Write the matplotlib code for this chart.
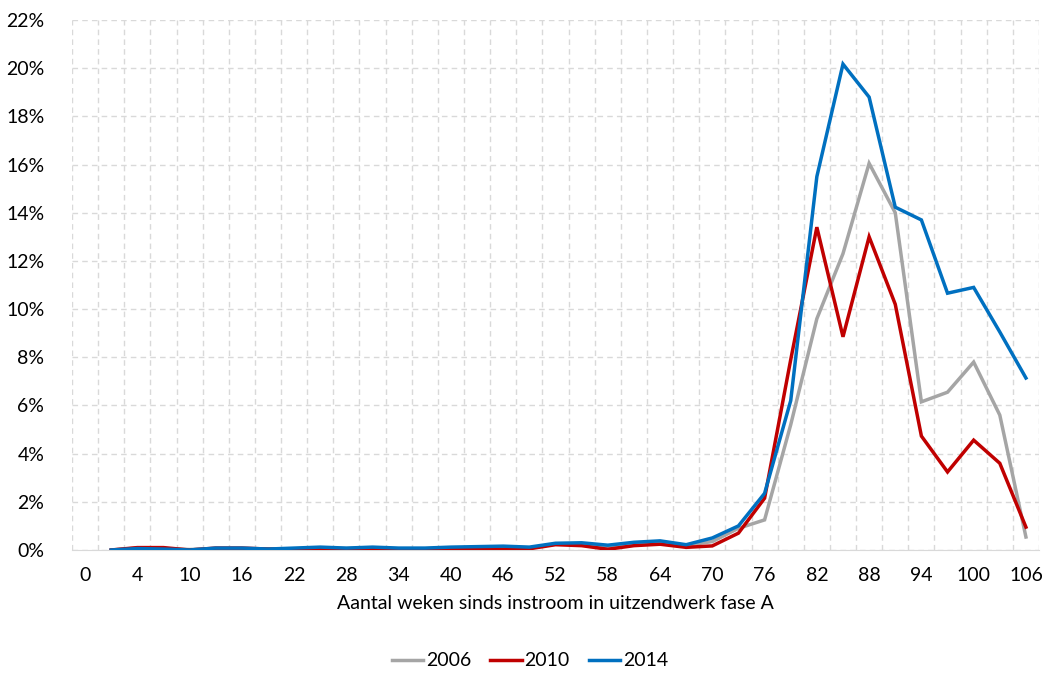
import matplotlib
matplotlib.use("Agg")
from matplotlib import pyplot
from matplotlib.ticker import FuncFormatter

# Categories on the x axis (weeks since inflow); first category "0" has no data
weeks = ["0", "1", "4", "7", "10", "13", "16", "19", "22", "25", "28", "31", "34",
         "37", "40", "43", "46", "49", "52", "55", "58", "61", "64", "67", "70",
         "73", "76", "79", "82", "85", "88", "91", "94", "97", "100", "103", "106"]

# Percentages, one value per week starting at week 1
values_2006 = [0.00, 0.08, 0.06, 0.02, 0.06, 0.06, 0.04, 0.05, 0.08, 0.06, 0.08, 0.05,
               0.05, 0.08, 0.08, 0.10, 0.08, 0.25, 0.25, 0.12, 0.25, 0.30, 0.20, 0.35,
               0.90, 1.25, 5.2, 9.6, 12.3, 16.05, 14.0, 6.15, 6.55, 7.8, 5.6, 0.54]
values_2010 = [0.00, 0.10, 0.10, 0.00, 0.08, 0.08, 0.04, 0.03, 0.06, 0.02, 0.05, 0.02,
               0.02, 0.06, 0.05, 0.03, 0.05, 0.22, 0.18, 0.03, 0.18, 0.24, 0.11, 0.17,
               0.70, 2.15, 7.9, 13.4, 8.85, 13.0, 10.2, 4.73, 3.24, 4.56, 3.6, 0.95]
values_2014 = [0.00, 0.06, 0.04, 0.00, 0.08, 0.08, 0.04, 0.08, 0.12, 0.08, 0.12, 0.08,
               0.08, 0.12, 0.14, 0.16, 0.12, 0.28, 0.30, 0.20, 0.32, 0.38, 0.22, 0.50,
               1.00, 2.35, 6.2, 15.5, 20.17, 18.8, 14.23, 13.7, 10.66, 10.9, 9.05, 7.14]

series = [("2006", values_2006, "#A5A5A5"),
          ("2010", values_2010, "#C00000"),
          ("2014", values_2014, "#0070C0")]

pyplot.rcParams["font.family"] = ["Lato", "DejaVu Sans"]

fig = pyplot.figure(figsize=(10.49, 6.75), dpi=100)
axes = fig.add_axes([72 / 1049, 1 - 550 / 675, (1039 - 72) / 1049, (550 - 20) / 675])

x = list(range(1, len(weeks)))
for name, values, color in series:
    axes.plot(x, values, color=color, linewidth=2.5, label=name, solid_joinstyle="miter")

axes.set_xlim(-0.5, len(weeks) - 0.5)
axes.set_ylim(0, 22)
axes.set_yticks(range(0, 23, 2))
axes.yaxis.set_major_formatter(FuncFormatter(lambda v, pos: "%d%%" % v))

axes.set_xticks(range(0, len(weeks), 2))
axes.set_xticklabels(weeks[::2])
axes.set_xticks([i + 0.5 for i in range(-1, len(weeks))], minor=True)

axes.tick_params(axis="both", which="both", length=0, labelsize=14, colors="black")
axes.tick_params(axis="x", pad=12)
axes.tick_params(axis="y", pad=20)

axes.grid(True, axis="y", which="major", color="#D9D9D9", linestyle=(0, (4, 3)), linewidth=1)
axes.grid(True, axis="x", which="minor", color="#D9D9D9", linestyle=(0, (4, 3)), linewidth=1)
axes.set_axisbelow(True)

for side in ("top", "right", "left"):
    axes.spines[side].set_visible(False)
axes.spines["bottom"].set_color("#D9D9D9")
axes.spines["bottom"].set_zorder(0)

axes.set_xlabel("Aantal weken sinds instroom in uitzendwerk fase A", fontsize=14, labelpad=8)

fig.legend(loc="center", bbox_to_anchor=(530 / 1049, 1 - 661 / 675), ncol=3, frameon=False,
           fontsize=14, handlelength=1.6, handletextpad=0.15, columnspacing=1.0)

pyplot.savefig("out.png", dpi=100)
